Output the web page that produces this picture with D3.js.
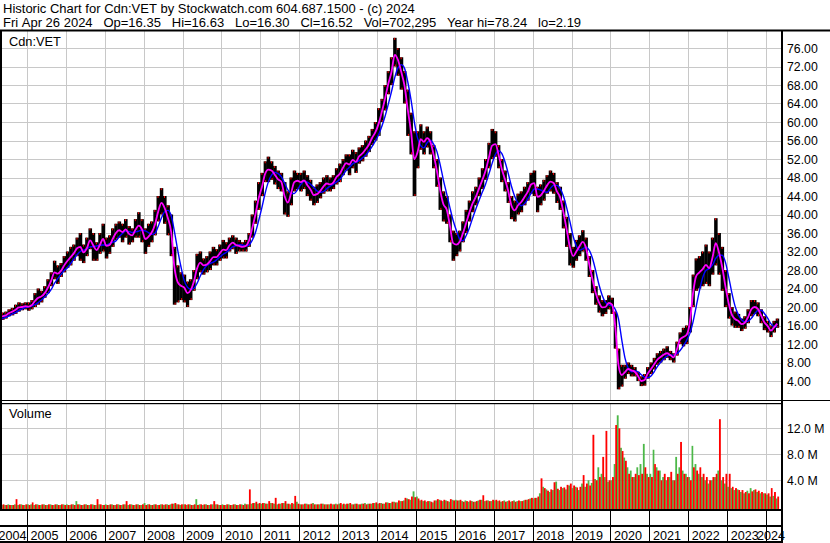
<!DOCTYPE html>
<html><head><meta charset="utf-8">
<script src="https://cdn.jsdelivr.net/npm/d3@7"></script>
<style>
body{margin:0;background:#fff}
svg{display:block}
text{font-family:"Liberation Sans",Arial,sans-serif;fill:#000}
</style>
</head><body>
<svg id="c" width="830" height="543"></svg>
<script>
// ---------- DATA (monthly, starting April 2004) ----------
const startYear = 2004, startMonthIndex = 3; // April 2004
const priceHigh = [
 18.5,18.8,19.0,19.5,19.8,20.5,21.0,20.8,21.0,
 21.0,21.5,23.0,24.0,23.5,24.5,26.0,27.5,30.0,29.0,29.5,31.0,
 32,33,33.5,35,36,33.5,35,37,36,34,36,38,
 35,35.5,37,38,38.5,38,39,37.5,37,39,40.5,39,
 37,38,38.5,41,44,45.7,44,42,40,33,29,27.5,
 27,25.5,26,28,31.5,32,30.5,31,32,33,32.5,33.5,
 34.5,34,35,35.5,35,34.5,34,34.5,36,40,43,47,
 49,51.5,52.5,51.5,50.5,49.5,49,47,45,48,49.5,49,
 49,49.5,48.5,47.5,46,46.5,47,48,48.5,48,48.5,50,
 51,52,53,53,54,53.5,54.5,55,56,57,58.5,60,
 63,65,68,71,74,78.2,76,74,71,67,62,58,
 58,59.5,58,59,58,55,52,48,45,44,40,36.5,
 36,36.5,38.5,41,43,45,46,48,50,52,55.5,58.5,
 58,55,52,49.5,47,44,43,44.5,45,46,47,49,
 49.5,46,46.5,47.5,48.5,49.5,49,47,46,43,39.5,36,
 33,34.5,35.5,36.6,35,31,28,24.5,22.5,21.5,21.5,22.5,
 22,19,11,7.5,7.5,8,7.5,7,6,5,5.5,7,
 8,9,10,10.5,11,11.5,10.5,10,12.5,14.5,15.5,16,
 20,27,30.5,31,32,33.5,32,35,39.2,36,33,28,
 23,20,19,18.5,17.5,18,19.5,21.5,21.5,21,19.5,18,
 17,16,17,17.5
];
const priceLow = [
 16.8,17.2,17.5,18.0,18.2,18.5,19.0,19.3,19.5,
 19.2,19.5,20.0,20.5,21.0,22.0,23.0,24.5,26.0,25.0,26.5,27.5,
 28.5,29,30,31,30,29.5,31,32.5,30,30,31.5,32,
 30.5,31.5,33,34.5,35,34,35,33.5,34,35,35,34,
 31.5,33,34,35.5,38.5,40,38,35.5,31,20.5,21,21.5,
 21,20,21.5,23.5,26,27.5,27,27.5,28,29,29,30,
 30.5,30.5,32,32.5,31.5,32,32,32,33,35,38,41,
 44,47,47,47.5,46.5,45.5,45,40,39.5,42,45,45.5,
 45,45.5,44,43,42,42.5,43.5,44.5,45,45,45.5,46.5,
 47,48.5,49.5,48.5,50,49,51,51.5,52.5,53.5,55,56,
 57,60,62.5,66,68,72,70,67,64,57,53,44,
 50,54,53,54.5,53,50,46,41,38.5,38,34,30,
 31,32,34,36,38.5,40.5,42,44,45.5,47.5,50,52,
 52.5,50,47,45,42.5,39,38.5,40,40.5,42,43,44.5,
 44,40.5,42,43,44.5,45,44.5,42.5,41,37,33,29,
 28.5,30,31,32,30,26.5,23,20.5,18.8,18,18.5,19.5,
 18.5,11,2.2,2.8,4.5,5.5,5,5,4,2.9,3,4.5,
 5.5,6.5,7.5,8,8.5,9,8.5,8,9.5,12,11.5,12,
 14.5,20,23.5,24,24.5,25,24.5,27,29,27,23.5,20,
 17.5,16,15.5,15.5,14.8,15.3,16.5,18,18.5,18,16.5,15,
 14.5,13.5,14.5,15.5
];
const maFast = [
 17.6,18.0,18.2,18.7,19.0,19.4,19.9,20.0,20.2,
 20.1,20.4,21.3,22.0,22.3,23.0,24.2,25.7,27.5,27.2,27.8,29.0,
 30.0,30.8,31.6,32.7,33.0,31.8,32.7,34.4,33.3,32.3,33.4,34.7,
 33.2,33.4,34.7,36.0,36.6,36.2,36.8,35.8,35.5,36.7,37.6,36.8,
 34.7,35.2,36.1,37.8,40.6,42.5,41.4,39.2,36.2,28.5,25.4,24.6,
 24.2,23.0,23.6,25.4,28.3,29.6,29.0,29.2,29.9,30.8,30.8,31.6,
 32.4,32.3,33.3,33.9,33.4,33.2,33.0,33.2,34.3,37.0,40.0,43.5,
 46.0,48.8,49.7,49.5,48.6,47.6,47.1,44.0,42.6,44.6,47.0,47.3,
 47.0,47.4,46.4,45.4,44.2,44.4,45.1,46.1,46.7,46.5,46.9,48.1,
 48.8,50.1,51.1,50.8,51.8,51.4,52.6,53.2,54.1,55.1,56.6,57.8,
 59.7,62.2,65.0,68.2,70.8,74.5,73.4,70.8,67.8,62.6,57.9,52.0,
 53.5,56.3,55.7,56.5,55.7,52.9,49.5,45.2,42.2,41.1,37.6,33.8,
 33.5,34.1,35.9,38.1,40.4,42.4,43.8,45.7,47.5,49.5,52.3,54.9,
 55.2,52.9,49.9,47.6,45.1,41.9,40.9,42.0,42.7,43.8,44.9,46.5,
 46.8,43.8,44.1,45.1,46.3,47.1,46.8,45.0,43.7,40.5,36.8,33.0,
 31.0,32.0,33.1,34.1,32.8,29.3,26.0,23.0,21.0,19.9,20.0,20.9,
 20.5,15.8,7.5,5.3,5.9,6.6,6.3,6.0,5.1,4.0,4.2,5.6,
 6.6,7.6,8.6,9.2,9.7,10.0,9.6,9.1,10.8,13.0,13.5,14.0,
 16.8,23.0,26.7,27.5,28.2,29.1,28.4,30.7,33.8,31.8,28.6,24.4,
 20.7,18.3,17.4,17.0,16.3,16.6,17.8,19.5,20.0,19.6,18.2,16.7,
 15.9,14.9,15.6,16.4
];
const maSlow = [
 17.3,17.5,17.8,18.1,18.5,18.8,19.25,19.6,19.9,
 20.05,20.2,20.5,20.95,21.5,22.15,22.9,23.8,25.1,26.15,27.05,27.9,
 28.5,29.4,30.35,31.3,32.0,32.3,32.55,33.0,33.05,33.2,33.35,33.4,
 33.4,33.7,34.0,34.3,35.2,35.9,36.4,36.35,36.1,36.2,36.4,36.65,
 36.45,36.1,35.7,35.95,37.4,39.25,40.6,40.9,39.8,36.3,32.3,28.7,
 25.7,24.3,23.85,24.05,25.1,26.7,28.1,29.0,29.4,29.7,30.2,30.8,
 31.4,31.8,32.4,33.0,33.2,33.45,33.4,33.2,33.4,34.4,36.1,38.7,
 41.6,44.6,47.0,48.5,49.15,48.85,48.2,46.8,45.3,44.6,44.55,45.4,
 46.5,47.2,47.0,46.55,45.85,45.1,44.8,44.95,45.6,46.1,46.55,47.05,
 47.6,48.5,49.5,50.2,50.95,51.3,51.65,52.25,52.8,53.75,54.75,55.9,
 57.3,59.1,61.2,63.8,66.55,69.6,71.7,72.4,71.6,68.65,64.8,60.1,
 56.5,54.9,54.4,55.5,56.05,55.2,53.65,50.8,47.45,44.5,41.5,38.7,
 36.5,34.75,34.3,35.4,37.1,39.2,41.2,43.1,44.85,46.6,48.75,51.05,
 53.0,53.8,53.2,51.4,48.9,46.1,43.9,42.5,41.9,42.35,43.35,44.5,
 45.5,45.5,45.3,44.95,44.8,45.65,46.3,46.3,45.65,44.0,41.5,38.5,
 35.3,33.2,32.3,32.55,33.0,32.3,30.55,27.8,24.8,22.5,21.0,20.45,
 20.3,19.5,17.5,13.0,9.0,6.8,6.0,6.2,6.0,5.35,4.8,4.7,
 5.1,6.0,7.1,8.0,8.8,9.4,9.6,9.6,9.9,10.6,11.6,12.8,
 14.3,16.8,20.1,23.5,26.35,27.9,28.3,29.1,30.5,31.2,31.2,29.65,
 26.4,23.0,20.2,18.35,17.25,16.8,16.9,17.55,18.5,19.2,19.3,18.6,
 17.6,16.4,15.8,15.7
];
// volume in millions: up-day (green) and down-day (red) peaks per month
const volUp = [
 0.3,0.2,0.2,0.3,0.2,0.3,0.2,0.3,0.2,
 0.3,0.3,0.2,0.3,0.2,0.3,0.2,0.3,0.2,0.3,0.2,0.3,
 0.3,0.2,0.3,0.8,0.3,0.2,0.3,0.2,0.3,0.2,0.3,0.2,
 0.3,0.2,0.3,0.2,0.3,0.2,0.3,0.2,0.3,0.2,0.3,0.2,
 0.5,0.3,0.2,0.3,0.2,0.3,0.2,0.3,0.3,0.4,0.3,0.2,
 0.3,0.2,0.3,0.2,1.1,0.3,0.2,0.3,0.2,0.3,0.3,0.2,
 0.3,0.2,0.3,0.2,0.3,0.2,0.3,0.4,0.3,0.4,0.5,0.4,
 0.4,0.5,0.4,0.5,0.4,0.3,0.4,0.5,0.4,0.3,0.4,0.7,
 0.3,0.3,0.4,0.3,0.5,0.3,0.3,0.4,0.3,0.3,0.3,0.4,
 0.4,0.3,0.3,0.4,0.3,0.4,0.3,0.4,0.5,0.4,0.4,0.5,
 0.4,0.5,0.4,0.6,0.5,0.7,0.6,0.8,0.9,1.2,1.0,2.3,
 1.5,0.9,0.8,0.7,0.8,0.6,0.9,1.0,0.8,0.9,0.7,1.0,
 1.0,0.9,0.8,0.9,0.7,0.8,0.7,0.9,1.0,0.8,0.9,0.8,
 0.9,0.8,0.7,0.9,0.8,0.7,0.9,0.8,0.8,0.9,1.0,1.2,
 1.2,1.3,2.0,3.0,2.6,2.2,2.5,3.8,2.5,2.8,2.6,3.2,
 2.8,3.0,2.5,3.5,3.0,4.0,3.6,4.2,6.0,5.0,4.5,3.8,
 4.0,6.5,14.0,9.0,7.5,6.0,5.5,4.5,6.0,6.5,9.6,5.0,
 5.0,8.7,6.0,5.5,4.5,4.0,4.5,4.0,7.6,6.0,5.5,5.0,
 4.5,9.3,6.5,5.0,4.5,4.0,3.5,4.0,4.5,5.5,4.0,3.5,
 3.0,2.8,2.5,2.6,2.2,2.0,2.4,2.8,2.5,2.2,2.0,2.0,
 1.8,1.5,1.6,1.2
];
const volDown = [
 0.7,0.3,0.2,0.2,0.2,1.1,0.3,0.2,0.3,
 0.2,0.6,0.3,0.2,0.3,0.2,0.3,0.2,0.3,0.2,0.3,0.2,
 0.2,0.3,0.2,0.3,0.2,0.3,0.2,0.3,0.2,1.1,0.3,0.2,
 0.2,0.3,0.2,0.3,0.2,0.3,0.8,0.3,0.2,0.3,0.2,0.3,
 0.2,0.3,0.2,0.3,0.2,0.3,0.3,0.2,0.4,0.5,0.3,0.3,
 0.3,0.3,0.2,0.3,0.2,0.3,0.3,0.2,0.3,0.8,0.3,0.2,
 0.2,0.3,0.2,0.3,0.2,0.3,0.2,0.3,2.6,0.5,0.7,0.5,
 0.5,0.4,0.8,0.5,1.3,0.4,0.5,0.8,0.4,0.5,1.6,0.4,
 0.3,0.4,0.3,0.4,0.3,0.3,0.4,0.3,0.3,0.4,0.3,0.3,
 0.5,0.4,0.4,0.5,0.3,0.4,0.3,0.4,0.3,0.4,0.5,0.6,
 0.5,0.4,0.6,0.5,0.7,0.6,0.9,0.8,1.3,1.1,1.5,1.4,
 1.2,1.0,0.9,0.8,0.7,0.9,1.1,0.9,1.0,0.8,1.1,0.9,
 0.9,1.0,0.7,0.8,0.9,0.7,0.8,1.0,1.7,0.9,0.8,1.0,
 1.0,0.9,0.8,0.7,0.9,0.8,0.7,0.9,0.8,1.0,1.1,1.3,
 1.3,1.5,4.3,2.8,2.4,2.6,3.7,2.7,3.0,2.9,3.3,3.5,
 3.2,2.9,3.0,4.8,3.5,3.2,11.0,4.0,4.5,7.6,11.6,4.0,
 4.5,12.5,12.0,8.5,7.0,5.0,4.5,5.0,4.8,5.0,6.0,4.5,
 4.5,6.5,5.5,4.0,5.0,4.5,5.3,4.0,5.0,9.9,5.0,4.5,
 4.0,6.0,5.5,6.0,5.0,4.5,4.0,4.5,5.0,13.4,4.5,5.0,
 5.0,3.0,2.8,2.5,2.5,2.2,2.0,2.3,2.6,2.4,2.2,2.0,
 2.0,2.8,2.2,1.5
];
const yearTicks = [2004,2005,2006,2007,2008,2009,2010,2011,2012,2013,2014,2015,2016,2017,2018,2019,2020,2021,2022,2023,2024];
const priceTicks = [4,8,12,16,20,24,28,32,36,40,44,48,52,56,60,64,68,72,76];
const volumeTicks = [4,8,12];
const headerLines = [
 "Historic Chart for Cdn:VET by Stockwatch.com 604.687.1500 - (c) 2024",
 "Fri Apr 26 2024   Op=16.35   Hi=16.63   Lo=16.30   Cl=16.52   Vol=702,295   Year hi=78.24   lo=2.19"
];
const symbolLabel = "Cdn:VET", volumeLabel = "Volume";

// ---------- LAYOUT ----------
const svg = d3.select("#c");
const plotL = 2, plotR = 781, priceTop = 31, priceBot = 400, volTop = 404, volBot = 509;
const x = d3.scaleTime().domain([new Date(2005,0,1), new Date(2024,0,1)]).range([27,766]);
const y = d3.scaleLinear().domain([4,76]).range([381,48]);
const yv = d3.scaleLinear().domain([0,12]).range([506.3,428.3]);
const n = priceHigh.length;
const mStart = i => new Date(startYear, startMonthIndex + i, 1);
const mEnd = i => new Date(startYear, startMonthIndex + i + 1, 1);
const mMid = i => new Date((mStart(i).getTime() + mEnd(i).getTime())/2);
const idx = d3.range(n);

svg.append("rect").attr("width",830).attr("height",543).attr("fill","#fff");

const defs = svg.append("defs");
defs.append("clipPath").attr("id","cp").append("rect").attr("x",plotL).attr("y",priceTop).attr("width",plotR-plotL).attr("height",priceBot-priceTop);
defs.append("clipPath").attr("id","cv").append("rect").attr("x",plotL).attr("y",volTop).attr("width",plotR-plotL).attr("height",volBot-volTop+1);

// grid
const grid = svg.append("g").attr("stroke","#c8c8c8").attr("stroke-width",1);
yearTicks.filter(yr => x(new Date(yr,0,1)) > plotL).forEach(yr => {
  const xx = Math.round(x(new Date(yr,0,1))) + 0.5;
  grid.append("line").attr("x1",xx).attr("x2",xx).attr("y1",priceTop).attr("y2",priceBot);
  grid.append("line").attr("x1",xx).attr("x2",xx).attr("y1",volTop).attr("y2",volBot);
});
priceTicks.forEach(v => {
  const yy = Math.round(y(v)) + 0.5;
  grid.append("line").attr("x1",plotL).attr("x2",plotR).attr("y1",yy).attr("y2",yy);
});
volumeTicks.forEach(v => {
  const yy = Math.round(yv(v)) + 0.5;
  grid.append("line").attr("x1",plotL).attr("x2",plotR).attr("y1",yy).attr("y2",yy);
});

// price bars
const pg = svg.append("g").attr("clip-path","url(#cp)");
pg.selectAll("rect.bar").data(idx).join("rect").attr("class","bar")
  .attr("x", i => x(mStart(i)))
  .attr("width", i => x(mEnd(i)) - x(mStart(i)) + 0.3)
  .attr("y", i => y(priceHigh[i]))
  .attr("height", i => Math.max(1, y(priceLow[i]) - y(priceHigh[i])))
  .attr("fill","#000");
pg.selectAll("rect.hi").data(idx).join("rect").attr("class","hi")
  .attr("x", i => x(mStart(i)) + 1).attr("width",1)
  .attr("y", i => y(priceHigh[i])).attr("height",2).attr("fill","#ff0000");
pg.selectAll("rect.lo").data(idx).join("rect").attr("class","lo")
  .attr("x", i => x(mEnd(i)) - 1.5).attr("width",1)
  .attr("y", i => y(priceLow[i]) - 2).attr("height",2).attr("fill","#ff0000");

const line = arr => d3.line().x(i => x(mMid(i))).y(i => y(arr[i])).curve(d3.curveMonotoneX)(idx);
pg.append("path").attr("d", line(maSlow)).attr("fill","none").attr("stroke","#0000ff").attr("stroke-width",1.4);
pg.append("path").attr("d", line(maFast)).attr("fill","none").attr("stroke","#ff00ff").attr("stroke-width",1.8);

// volume bars
const vg = svg.append("g").attr("clip-path","url(#cv)");
vg.selectAll("rect.up").data(idx).join("rect").attr("class","up")
  .attr("x", i => x(mStart(i)))
  .attr("width", i => (x(mEnd(i)) - x(mStart(i)))/2 + 0.2)
  .attr("y", i => yv(volUp[i]))
  .attr("height", i => volBot - yv(volUp[i]))
  .attr("fill","#4cb848");
vg.selectAll("rect.dn").data(idx).join("rect").attr("class","dn")
  .attr("x", i => (x(mStart(i)) + x(mEnd(i)))/2)
  .attr("width", i => (x(mEnd(i)) - x(mStart(i)))/2 + 0.2)
  .attr("y", i => yv(volDown[i]))
  .attr("height", i => volBot - yv(volDown[i]))
  .attr("fill","#ff0000");

// frame lines
const fr = svg.append("g").attr("fill","#000");
fr.append("rect").attr("x",0).attr("y",29.5).attr("width",830).attr("height",2);
fr.append("rect").attr("x",0).attr("y",31).attr("width",2).attr("height",480);
fr.append("rect").attr("x",781).attr("y",31).attr("width",2).attr("height",512);
fr.append("rect").attr("x",0).attr("y",400).attr("width",781).attr("height",1);
fr.append("rect").attr("x",0).attr("y",403).attr("width",781).attr("height",1.2);
fr.append("rect").attr("x",783).attr("y",400).attr("width",47).attr("height",1);
fr.append("rect").attr("x",0).attr("y",509).attr("width",781).attr("height",2);
fr.append("rect").attr("x",0).attr("y",525).attr("width",781).attr("height",2);
fr.append("rect").attr("x",0).attr("y",541).attr("width",781).attr("height",2);
yearTicks.filter(yr => x(new Date(yr,0,1)) > plotL).forEach(yr => {
  const xx = Math.round(x(new Date(yr,0,1)));
  fr.append("rect").attr("x",xx).attr("y",511).attr("width",1).attr("height",30);
});

// texts
const fs = "12.3px";
headerLines.forEach((t,k) => {
  svg.append("text").attr("x",3).attr("y",12.5 + k*14).attr("font-size","13px")
    .text(t.replace(/ /g, "\u00A0"));
});
svg.append("text").attr("x",9).attr("y",46).attr("font-size","12.8px").text(symbolLabel);
svg.append("text").attr("x",9).attr("y",417.5).attr("font-size","12.8px").text(volumeLabel);
priceTicks.forEach(v => {
  svg.append("text").attr("x",787).attr("y",y(v)+4.5).attr("font-size",fs).text(v.toFixed(2));
});
volumeTicks.forEach(v => {
  svg.append("text").attr("x",787).attr("y",yv(v)+4.5).attr("font-size",fs).text(v.toFixed(1)+" M");
});
yearTicks.forEach(yr => {
  const t = svg.append("text").attr("y",539.5).attr("font-size","12.6px").text(yr);
  const w = t.node().getComputedTextLength();
  let xx = x(new Date(yr,0,1)) + 3.5;
  xx = Math.min(Math.max(xx, -1.6), 785 - w);
  t.attr("x", xx);
});
</script>
</body></html>
